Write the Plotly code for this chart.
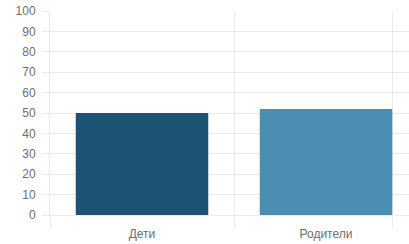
import plotly.graph_objects as go

categories = ["Дети", "Родители"]
values = [50, 52]
colors = ["#1d5274", "#4a8fb1"]
y_ticks = [0, 10, 20, 30, 40, 50, 60, 70, 80, 90, 100]

x_pos = list(range(len(categories)))

fig = go.Figure()
fig.add_trace(go.Bar(
    x=x_pos, y=values, marker=dict(color=colors, line=dict(width=0)),
    width=0.72, hoverinfo="skip",
))

grid_col = "rgba(0,0,0,0.08)"
fig.update_layout(
    width=409, height=244,
    margin=dict(l=50, r=0, t=11, b=29),
    paper_bgcolor="white", plot_bgcolor="white",
    showlegend=False,
    font=dict(family="Liberation Sans, Arial, sans-serif", size=12, color="#6e6e6e"),
    xaxis=dict(
        range=[-0.5, -0.5 + 359 / 184],
        tickvals=x_pos, ticktext=categories,
        showgrid=False, zeroline=False,
        ticks="outside", ticklen=8, tickcolor="rgba(0,0,0,0)",
        showline=True, linecolor=grid_col, linewidth=1,
        minor=dict(tickvals=[-0.5, 0.5, 1.36], showgrid=True, gridcolor=grid_col,
                   ticks="outside", ticklen=13, tickcolor=grid_col, gridwidth=1),
        fixedrange=True,
    ),
    yaxis=dict(
        range=[0, 100], tickvals=y_ticks,
        showgrid=True, gridcolor=grid_col, gridwidth=1,
        zeroline=False, showline=True, linecolor=grid_col,
        ticks="outside", ticklen=7, tickcolor=grid_col,
        ticklabelstandoff=4,
        fixedrange=True,
    ),
)

fig.write_html(
    "out.html",
    config={"displayModeBar": False},
    post_script="document.body.style.margin='0';document.body.style.padding='0';",
)
